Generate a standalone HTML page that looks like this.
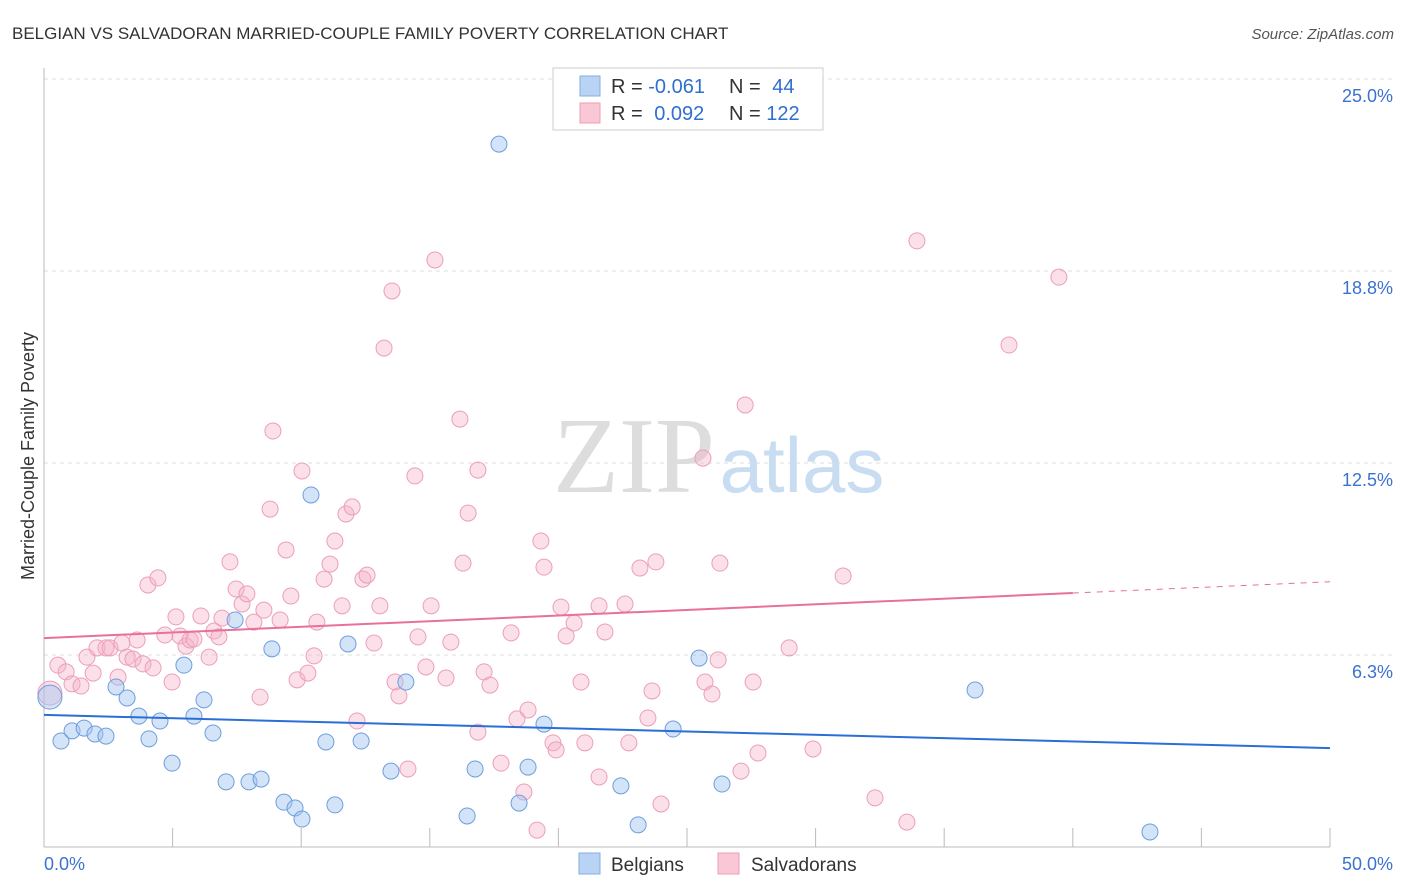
<!DOCTYPE html>
<html><head><meta charset="utf-8"><style>
body{margin:0;background:#fff;font-family:"Liberation Sans",sans-serif}
svg{display:block}
</style></head><body>
<svg id="c" width="1406" height="892">
<text x="12" y="39" font-size="17" fill="#333">BELGIAN VS SALVADORAN MARRIED-COUPLE FAMILY POVERTY CORRELATION CHART</text>
<text x="1394" y="39" font-size="15" fill="#555" text-anchor="end" font-style="italic">Source: ZipAtlas.com</text>
<text x="634" y="492" font-size="108" fill="#ddd" font-family="Liberation Serif,serif" text-anchor="middle">ZIP</text>
<text x="802" y="492" font-size="78" fill="#c8dcf2" text-anchor="middle">atlas</text>
<text x="34" y="456" font-size="18" fill="#333" text-anchor="middle" transform="rotate(-90 34 456)">Married-Couple Family Poverty</text>
<g id="grid"></g><g id="pts"></g><g id="lines"></g>
<g>
<rect x="553" y="68" width="270" height="62" fill="#fff" stroke="#ccc"/>
<rect x="580" y="76" width="20" height="20" fill="#b9d3f5" stroke="#86aee4"/>
<rect x="580" y="103" width="20" height="20" fill="#f9c7d6" stroke="#ec9fb7"/>
<text x="611" y="93" font-size="20" fill="#333">R = <tspan fill="#2f6fcf">-0.061</tspan></text>
<text x="729" y="93" font-size="20" fill="#333">N = <tspan fill="#2f6fcf" dx="6">44</tspan></text>
<text x="611" y="120" font-size="20" fill="#333">R = <tspan fill="#2f6fcf" dx="6">0.092</tspan></text>
<text x="729" y="120" font-size="20" fill="#333">N = <tspan fill="#2f6fcf">122</tspan></text>
</g>
<g>
<rect x="579" y="853" width="21" height="21" fill="#b9d3f5" stroke="#86aee4"/>
<text x="611" y="871" font-size="19" fill="#333">Belgians</text>
<rect x="718" y="853" width="21" height="21" fill="#f9c7d6" stroke="#ec9fb7"/>
<text x="751" y="871" font-size="19" fill="#333">Salvadorans</text>
</g>
</svg>
<script>
const yTicks=[6.25,12.5,18.75,25];
const yTickLabels=["6.3%","12.5%","18.8%","25.0%"];
const xTicks=[0,5,10,15,20,25,30,35,40,45,50];
const belgX=[0.23,0.66,1.09,1.56,1.98,2.41,2.80,3.23,3.69,4.08,4.51,4.98,5.44,5.83,6.22,6.57,7.08,7.43,7.97,8.44,8.86,9.33,9.76,10.03,10.38,10.96,11.31,11.82,12.33,13.49,14.07,16.45,16.76,17.69,18.47,18.82,19.44,22.43,23.10,24.46,25.47,26.36,36.20,43.00];
const belgY=[4.88,3.45,3.78,3.87,3.68,3.61,5.21,4.85,4.26,3.52,4.10,2.73,5.92,4.26,4.79,3.71,2.12,7.39,2.12,2.21,6.45,1.46,1.27,0.91,11.46,3.42,1.37,6.61,3.45,2.47,5.37,1.01,2.54,22.88,1.43,2.60,4.00,1.99,0.72,3.84,6.15,2.05,5.11,0.49];
const salvX=[0.23,0.54,0.86,1.09,1.44,1.67,1.91,2.06,2.41,2.57,2.88,3.03,3.23,3.46,3.62,3.85,4.04,4.24,4.43,4.70,4.98,5.13,5.29,5.52,5.68,5.83,6.10,6.42,6.61,6.80,6.92,7.23,7.47,7.70,7.89,8.16,8.40,8.55,8.79,8.90,9.18,9.41,9.60,9.84,10.03,10.26,10.50,10.61,10.89,11.12,11.31,11.59,11.74,11.98,12.17,12.40,12.56,12.83,13.06,13.22,13.53,13.65,13.80,14.15,14.42,14.54,14.85,15.05,15.20,15.63,15.82,16.17,16.29,16.49,16.87,16.87,17.11,17.34,17.77,18.16,18.39,18.66,18.82,19.17,19.32,19.44,19.79,19.91,20.10,20.30,20.61,20.88,21.03,21.58,21.58,21.81,22.59,22.74,23.17,23.48,23.64,23.79,23.99,25.62,25.70,25.97,26.21,26.28,27.10,27.26,27.57,27.76,28.97,29.90,31.07,32.31,33.55,33.94,37.52,39.46];
const salvY=[5.01,5.92,5.70,5.31,5.24,6.18,5.66,6.48,6.48,6.48,5.53,6.64,6.18,6.12,6.74,5.96,8.53,5.83,8.76,6.90,5.37,7.49,6.87,6.54,6.74,6.77,7.52,6.18,7.03,6.84,7.45,9.28,8.40,7.91,8.24,7.32,4.88,7.71,11.00,13.54,7.39,9.67,8.17,5.44,12.24,5.66,6.22,7.32,8.72,9.21,9.96,7.85,10.84,11.07,4.10,8.72,8.85,6.64,7.85,16.24,18.10,5.37,4.92,2.54,12.08,6.84,5.86,7.85,19.11,5.50,6.67,13.93,9.24,10.87,12.27,3.74,5.70,5.27,2.73,6.97,4.17,1.79,4.46,0.55,9.96,9.11,3.39,3.16,7.81,6.87,7.29,5.37,3.39,2.28,7.85,7.00,7.91,3.39,9.08,4.20,5.08,9.28,1.40,12.66,5.37,4.98,6.09,9.24,2.47,14.39,5.37,3.06,6.48,3.19,8.82,1.60,0.81,19.73,16.34,18.55];
const belgTrend=[4.30,-0.0216];
const salvTrend=[6.80,0.0367];
const NS="http://www.w3.org/2000/svg";
const X=v=>44+v/50*1286, Y=v=>847-v*30.72;
function mk(t,a,p){const e=document.createElementNS(NS,t);for(const k in a)e.setAttribute(k,a[k]);p.appendChild(e);return e;}
const g=document.getElementById('grid');
yTicks.forEach((t,i)=>{
 const l=mk('line',{x1:44,x2:1394,y1:Y(t),y2:Y(t),stroke:'#ddd','stroke-dasharray':'4,4'},g);
 
 
 const tx=mk('text',{x:1393,y:Y(t)+23,'font-size':18,fill:'#3a72d0','text-anchor':'end'},g);tx.textContent=yTickLabels[i];
 
 
});
mk('line',{x1:44,x2:44,y1:68,y2:847,stroke:'#bbb'},g);
mk('line',{x1:44,x2:1330,y1:847,y2:847,stroke:'#bbb'},g);
xTicks.forEach(t=>{const l=mk('line',{x1:X(t),x2:X(t),y1:828,y2:847,stroke:'#bbb'},g);
 
 });
let t0=mk('text',{x:44,y:870,'font-size':18,fill:'#3a72d0'},g);t0.textContent='0.0%';


let t1=mk('text',{x:1393,y:870,'font-size':18,fill:'#3a72d0','text-anchor':'end'},g);t1.textContent='50.0%';


const P=document.getElementById('pts');
salvX.forEach((x,i)=>{const c=mk('circle',{cx:X(x),cy:Y(salvY[i]),r:i==0?12:8,fill:'rgba(246,178,200,0.4)',stroke:'#ec9fb7','stroke-width':1},P);
 
 });
belgX.forEach((x,i)=>{const c=mk('circle',{cx:X(x),cy:Y(belgY[i]),r:i==0?12:8,fill:'rgba(160,195,240,0.45)',stroke:'#6e9edc','stroke-width':1},P);
 
 });
const L=document.getElementById('lines');
const f=(tr,x)=>tr[0]+tr[1]*x;
let bl=mk('line',{x1:X(0),y1:Y(f(belgTrend,0)),x2:X(50),y2:Y(f(belgTrend,50)),stroke:'#2a6fd6','stroke-width':2},L);


let sl=mk('line',{x1:X(0),y1:Y(f(salvTrend,0)),x2:X(40),y2:Y(f(salvTrend,40)),stroke:'#e8709a','stroke-width':2},L);


let sd=mk('line',{x1:X(40),y1:Y(f(salvTrend,40)),x2:X(50),y2:Y(f(salvTrend,50)),stroke:'#e8709a','stroke-width':1,'stroke-dasharray':'6,6'},L);


</script>
</body></html>
